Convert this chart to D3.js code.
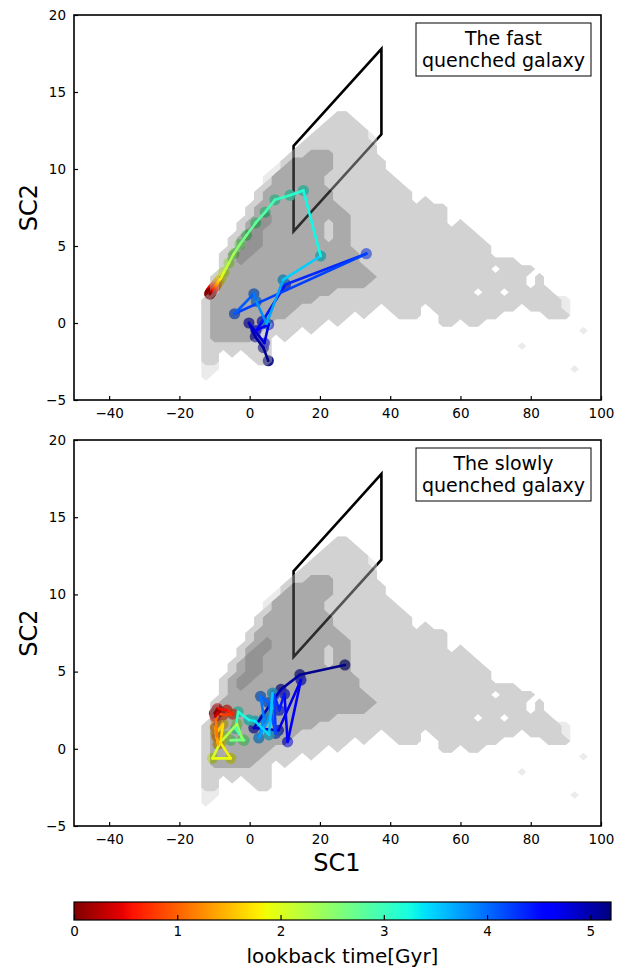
<!DOCTYPE html>
<html>
<head>
<meta charset="utf-8">
<script src="https://cdn.jsdelivr.net/npm/d3@7"></script>
<style>
  body { margin: 0; background: #fff; }
  svg { display: block; }
  text { font-family: "DejaVu Sans", sans-serif; fill: #000; }
</style>
</head>
<body>
<svg id="chart" width="622" height="967"></svg>
<script>
// ---------- data ----------
const xTicks = [-40, -20, 0, 20, 40, 60, 80, 100];
const yTicks = [-5, 0, 5, 10, 15, 20];
const cbTicks = [0, 1, 2, 3, 4, 5];
const timeMax = 5.2;

// selection box in the SC1-SC2 plane
const boxCorners = [[12.5, 11.5], [37.5, 17.8], [37.5, 12.25], [12.5, 5.95]];

// fast quenched galaxy: lookback time [Gyr], SC1, SC2
const fastT = [5.20, 5.10, 5.00, 4.90, 4.80, 4.70, 4.60, 4.50, 4.40, 4.30, 4.15, 4.00, 3.88, 3.76, 3.64, 3.36,
               3.20, 3.10, 3.00, 2.90, 2.80, 2.70, 2.58, 2.45, 2.28, 2.08, 1.88, 1.68, 1.48, 1.32, 1.18, 1.05,
               0.93, 0.82, 0.71, 0.60, 0.50, 0.40, 0.30, 0.20, 0.10, 0.00];
const fastX = [5.3, 3.9, 1.6, -0.2, 4.2, 5.4, 1.8, 3.6, 10.2, 33.2, -4.3, 1.2, 1.9, 4.8, 9.5, 20.2,
               15.3, 11.5, 7.2, 4.4, 1.7, -0.9, -2.8, -4.5, -5.9, -7.3, -8.2, -8.9, -9.3, -9.6, -9.9, -10.1,
               -10.3, -10.5, -10.6, -10.8, -10.9, -11.0, -11.1, -11.2, -11.3, -11.35];
const fastY = [-2.45, -1.6, -0.9, 0.0, -1.3, -0.1, -0.5, 0.1, 2.5, 4.5, 0.6, 1.9, 1.4, -0.05, 2.8, 4.35,
               8.6, 8.3, 8.0, 7.2, 6.5, 5.7, 5.1, 4.5, 3.9, 3.3, 2.9, 2.7, 2.55, 2.45, 2.35, 2.3,
               2.25, 2.2, 2.15, 2.1, 2.05, 2.0, 1.98, 1.95, 1.9, 1.88];

// slowly quenched galaxy: lookback time [Gyr], SC1, SC2
const slowT = [5.20, 5.10, 5.00, 4.90, 4.80, 4.70, 4.60, 4.50, 4.40, 4.30, 4.20, 4.10, 4.00, 3.90, 3.80, 3.70,
               3.60, 3.50, 3.40, 3.30, 3.15, 3.00, 2.85, 2.70, 2.55, 2.40, 2.25, 2.10, 1.98, 1.86, 1.76, 1.66,
               1.56, 1.44, 1.32, 1.20, 1.08, 0.96, 0.84, 0.72, 0.60, 0.48, 0.36, 0.24, 0.12, 0.00];
const slowX = [27.1, 14.3, 8.9, 1.2, 8.2, 14.6, 10.8, 9.9, 8.4, 7.0, 7.4, 5.3, 3.1, 4.1, 2.6, 6.0,
               6.5, 5.5, 1.5, -0.2, -3.3, -4.0, -1.6, -5.4, -2.0, -3.6, -6.8, -8.3, -10.6, -5.4, -8.3, -7.6,
               -9.6, -9.0, -9.8, -9.3, -9.6, -9.0, -7.5, -4.8, -6.5, -9.2, -9.8, -8.5, -9.4, -10.0];
const slowY = [5.43, 4.8, 3.85, 1.35, 1.2, 4.45, 0.45, 3.55, 2.5, 3.5, 1.0, 3.0, 3.4, 1.95, 0.7, 2.2,
               3.6, 0.9, 1.8, 1.87, 2.4, 1.3, 0.55, 0.55, 0.6, 1.6, 0.8, 0.45, -0.62, -0.62, 0.4, 1.6,
               1.0, 0.3, 1.4, 0.8, 1.9, 2.3, 2.2, 2.25, 2.5, 2.6, 2.1, 2.4, 2.5, 2.3];

// population density of the galaxy sample, as shading levels on a 2.5 x 0.5 grid
// (columns from SC1 = -15, rows from SC2 = 14 downwards); each row is run-length coded [level, count]
const gridX0 = -15, gridDX = 2.5, gridY0 = 14, gridDY = 0.5, gridCols = 46;
const densityRows = [
  [[0,46]],
  [[0,16],[2,2]],
  [[0,15],[2,4]],
  [[0,14],[2,6]],
  [[0,13],[2,7],[1,1]],
  [[0,12],[2,9]],
  [[0,11],[2,2],[3,3],[2,5]],
  [[0,10],[2,1],[3,5],[2,6]],
  [[0,9],[1,1],[3,6],[2,6]],
  [[0,8],[1,1],[3,6],[2,8]],
  [[0,8],[2,1],[3,6],[2,9]],
  [[0,7],[2,1],[3,8],[2,9]],
  [[0,7],[2,1],[3,8],[2,9],[0,1],[2,1]],
  [[0,6],[2,1],[3,10],[2,12]],
  [[0,6],[2,1],[3,1],[4,1],[3,9],[2,11]],
  [[0,5],[2,1],[3,1],[4,2],[3,6],[2,1],[3,2],[2,11],[0,1],[2,1]],
  [[0,5],[2,1],[4,2],[3,7],[2,1],[3,2],[2,14]],
  [[0,4],[2,1],[3,1],[4,2],[3,7],[2,1],[3,2],[2,15]],
  [[0,4],[2,1],[3,1],[4,2],[3,10],[2,16]],
  [[0,3],[2,1],[3,1],[4,2],[3,12],[2,15]],
  [[0,3],[2,1],[3,1],[4,1],[3,13],[2,18]],
  [[0,3],[2,1],[3,16],[2,14],[0,1],[2,4]],
  [[0,2],[2,1],[3,18],[2,17],[0,1],[2,1]],
  [[0,2],[2,1],[3,17],[2,18],[0,1],[2,1]],
  [[0,2],[2,1],[3,13],[2,16],[0,1],[2,2],[0,1],[2,5]],
  [[0,1],[2,1],[3,12],[2,28],[1,1]],
  [[0,1],[2,1],[3,10],[2,9],[0,1],[2,4],[0,1],[2,10],[0,1],[2,4],[1,1]],
  [[0,1],[2,1],[3,9],[2,7],[0,1],[2,1],[0,3],[2,3],[0,2],[2,7],[0,5],[2,3]],
  [[0,1],[2,1],[3,7],[2,6],[0,1],[2,1],[0,11],[2,2],[0,1],[2,2]],
  [[0,1],[2,1],[3,6],[2,4],[0,1],[2,1],[0,30],[1,1]],
  [[0,1],[2,1],[3,5],[2,2],[0,1],[2,1]],
  [[0,1],[2,8],[0,28],[1,1]],
  [[0,1],[2,2],[0,1],[2,1],[0,1],[2,3]],
  [[0,1],[2,2],[0,4],[2,2]],
  [[0,1],[1,2],[0,40],[1,1]],
  [[0,1],[1,1]],
  [[0,46]]
];
const densityLevels = [0.5, 1.5, 2.5, 3.5];
const densityFills = ["#d9d9d9", "#a7a7a7", "#585858", "#2a2a2a"];
const densityOpacity = 0.5;

const panelLabels = [["The fast", "quenched galaxy"], ["The slowly", "quenched galaxy"]];

// ---------- colour map (jet, reversed so that t = 0 is dark red) ----------
const jetR = d3.scaleLinear().domain([0, 0.35, 0.66, 0.89, 1]).range([0, 0, 1, 1, 0.5]).clamp(true);
const jetG = d3.scaleLinear().domain([0, 0.125, 0.375, 0.64, 0.91, 1]).range([0, 0, 1, 1, 0, 0]).clamp(true);
const jetB = d3.scaleLinear().domain([0, 0.11, 0.34, 0.65, 1]).range([0.5, 1, 1, 0, 0]).clamp(true);
const jet = v => d3.rgb(255 * jetR(v), 255 * jetG(v), 255 * jetB(v)).formatHex();
const timeColor = t => jet(1 - t / timeMax);

// ---------- layout ----------
const svg = d3.select("#chart");
const left = 74, right = 601;
const panelBoxes = [{ top: 15, bottom: 400 }, { top: 440, bottom: 826 }];
const tracks = [
  { t: fastT, x: fastX, y: fastY },
  { t: slowT, x: slowX, y: slowY }
];

const xScale = d3.scaleLinear().domain([-50, 100]).range([left, right]);

// density grid -> contour bands
const gridValues = densityRows.map(row => {
  const out = [];
  row.forEach(([v, n]) => { for (let k = 0; k < n; k++) out.push(v); });
  while (out.length < gridCols) out.push(0);
  return out.slice(0, gridCols);
}).flat();
const bands = d3.contours()
  .size([gridCols, densityRows.length])
  .smooth(false)
  .thresholds(densityLevels)(gridValues);

const defs = svg.append("defs");

panelBoxes.forEach((pb, pi) => {
  const yScale = d3.scaleLinear().domain([-5, 20]).range([pb.bottom, pb.top]);
  const clipId = "clip" + pi;
  defs.append("clipPath").attr("id", clipId)
    .append("rect").attr("x", left).attr("y", pb.top)
    .attr("width", right - left).attr("height", pb.bottom - pb.top);

  const g = svg.append("g");
  const plot = g.append("g").attr("clip-path", `url(#${clipId})`);

  // selection box
  plot.append("path")
    .attr("d", d3.line().x(d => xScale(d[0])).y(d => yScale(d[1])).curve(d3.curveLinearClosed)(boxCorners))
    .attr("fill", "none").attr("stroke", "#000").attr("stroke-width", 2.6)
    .attr("stroke-linejoin", "miter");

  const tr = tracks[pi];
  const pts = tr.t.map((t, k) => ({ t, x: tr.x[k], y: tr.y[k] }));

  // snapshot markers
  plot.append("g").selectAll("circle").data(pts).join("circle")
    .attr("cx", d => xScale(d.x)).attr("cy", d => yScale(d.y)).attr("r", 5.6)
    .attr("fill", d => timeColor(d.t)).attr("fill-opacity", 0.9);

  // density shading
  const proj = d3.geoTransform({
    point(gx, gy) {
      this.stream.point(xScale(gridX0 + (gx - 0.5) * gridDX), yScale(gridY0 - (gy - 0.5) * gridDY));
    }
  });
  const geo = d3.geoPath(proj);
  const dens = plot.append("g").attr("opacity", densityOpacity);
  dens.selectAll("path").data(bands).join("path")
    .attr("d", geo)
    .attr("fill", (d, k) => densityFills[k]);

  // track segments
  const segs = d3.pairs(pts);
  plot.append("g").selectAll("line").data(segs).join("line")
    .attr("x1", d => xScale(d[0].x)).attr("y1", d => yScale(d[0].y))
    .attr("x2", d => xScale(d[1].x)).attr("y2", d => yScale(d[1].y))
    .attr("stroke", d => timeColor((d[0].t + d[1].t) / 2))
    .attr("stroke-width", 2.6).attr("stroke-linecap", "round");

  // axes (ticks point inward)
  const xAxis = d3.axisBottom(xScale).tickValues(xTicks).tickSizeInner(-4).tickSizeOuter(0).tickPadding(8);
  const yAxis = d3.axisLeft(yScale).tickValues(yTicks).tickSizeInner(-4).tickSizeOuter(0).tickPadding(8);
  const ax = g.append("g").attr("transform", `translate(0,${pb.bottom})`).call(xAxis);
  const ay = g.append("g").attr("transform", `translate(${left},0)`).call(yAxis);
  [ax, ay].forEach(a => {
    a.select(".domain").remove();
    a.selectAll(".tick line").attr("stroke", "#000").attr("stroke-width", 1.2);
    a.selectAll(".tick text").attr("font-size", 13.5).attr("font-family", "DejaVu Sans").attr("fill", "#000");
  });

  // frame
  g.append("rect").attr("x", left).attr("y", pb.top)
    .attr("width", right - left).attr("height", pb.bottom - pb.top)
    .attr("fill", "none").attr("stroke", "#000").attr("stroke-width", 1.6);

  // y label
  g.append("text")
    .attr("transform", `translate(37,${(pb.top + pb.bottom) / 2}) rotate(-90)`)
    .attr("text-anchor", "middle").attr("font-size", 24).text("SC2");

  // panel legend box
  const lb = g.append("g");
  lb.append("rect").attr("x", 416).attr("y", pb.top + 8).attr("width", 175).attr("height", 53)
    .attr("fill", "#fff").attr("stroke", "#000").attr("stroke-width", 1);
  panelLabels[pi].forEach((s, k) => {
    lb.append("text").attr("x", 503.5).attr("y", pb.top + 30 + k * 22)
      .attr("text-anchor", "middle").attr("font-size", 19).text(s);
  });
});

// x label
svg.append("text").attr("x", 337).attr("y", 871).attr("text-anchor", "middle")
  .attr("font-size", 24).text("SC1");

// ---------- colour bar ----------
const cbLeft = 74, cbRight = 611, cbTop = 902, cbBottom = 920;
const cbScale = d3.scaleLinear().domain([0, timeMax]).range([cbLeft, cbRight]);
const grad = defs.append("linearGradient").attr("id", "cbgrad")
  .attr("x1", "0%").attr("x2", "100%").attr("y1", "0%").attr("y2", "0%");
d3.range(0, 101).forEach(k => {
  grad.append("stop").attr("offset", k + "%").attr("stop-color", jet(1 - k / 100));
});
svg.append("rect").attr("x", cbLeft).attr("y", cbTop).attr("width", cbRight - cbLeft)
  .attr("height", cbBottom - cbTop).attr("fill", "url(#cbgrad)");
const cbAxis = d3.axisBottom(cbScale).tickValues(cbTicks).tickSizeInner(-5).tickSizeOuter(0).tickPadding(6)
  .tickFormat(d3.format("d"));
const cba = svg.append("g").attr("transform", `translate(0,${cbBottom})`).call(cbAxis);
cba.select(".domain").remove();
cba.selectAll(".tick line").attr("stroke", "#000").attr("stroke-width", 1.2);
cba.selectAll(".tick text").attr("font-size", 13.5).attr("font-family", "DejaVu Sans").attr("fill", "#000");
svg.append("rect").attr("x", cbLeft).attr("y", cbTop).attr("width", cbRight - cbLeft)
  .attr("height", cbBottom - cbTop).attr("fill", "none").attr("stroke", "#000").attr("stroke-width", 1.2);
svg.append("text").attr("x", (cbLeft + cbRight) / 2).attr("y", 963).attr("text-anchor", "middle")
  .attr("font-size", 20).text("lookback time[Gyr]");
</script>
</body>
</html>
